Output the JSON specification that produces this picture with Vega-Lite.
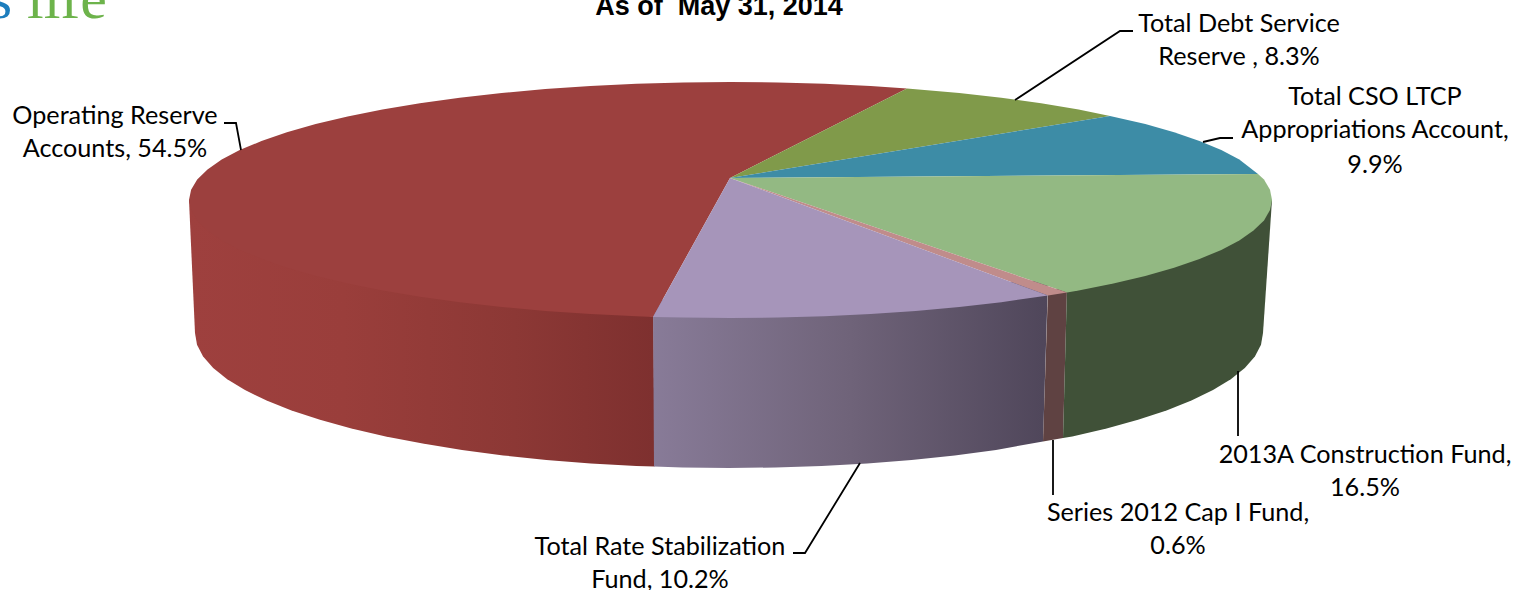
{"$schema":"https://vega.github.io/schema/vega-lite/v6.json","width":1515,"height":590,"autosize":{"type":"none"},"padding":0,"background":"white","view":{"stroke":null},
"datasets":{
"faces":[
{"face":"side red","x":189,"y":200},{"face":"side red","x":653.5,"y":317},{"face":"side red","x":654.5,"y":466.5},{"face":"side red","x":636.3,"y":465.9},{"face":"side red","x":590.8,"y":463.4},{"face":"side red","x":546.4,"y":459.9},{"face":"side red","x":503.3,"y":455.4},{"face":"side red","x":462,"y":449.9},{"face":"side red","x":422.7,"y":443.6},{"face":"side red","x":385.7,"y":436.4},{"face":"side red","x":351.4,"y":428.5},{"face":"side red","x":320,"y":419.8},{"face":"side red","x":291.5,"y":410.4},{"face":"side red","x":266.6,"y":400.5},{"face":"side red","x":245,"y":390.1},{"face":"side red","x":227.2,"y":379.2},{"face":"side red","x":213.2,"y":367.9},{"face":"side red","x":203.1,"y":356.4},{"face":"side red","x":197,"y":344.8},{"face":"side red","x":195,"y":333},
{"face":"side purple","x":653,"y":300},{"face":"side purple","x":1048,"y":280},{"face":"side purple","x":1043,"y":441.5},{"face":"side purple","x":996,"y":449.9},{"face":"side purple","x":954.7,"y":455.4},{"face":"side purple","x":911.6,"y":459.9},{"face":"side purple","x":867.2,"y":463.4},{"face":"side purple","x":821.7,"y":465.9},{"face":"side purple","x":775.6,"y":467.5},{"face":"side purple","x":729,"y":468},{"face":"side purple","x":682.4,"y":467.5},{"face":"side purple","x":654,"y":466.5},
{"face":"side pink","x":1048,"y":290},{"face":"side pink","x":1067,"y":288},{"face":"side pink","x":1063,"y":438},{"face":"side pink","x":1043,"y":441.5},
{"face":"side green","x":1067,"y":288},{"face":"side green","x":1272,"y":200},{"face":"side green","x":1263,"y":333},{"face":"side green","x":1261,"y":344.8},{"face":"side green","x":1254.9,"y":356.4},{"face":"side green","x":1244.8,"y":367.9},{"face":"side green","x":1230.8,"y":379.2},{"face":"side green","x":1213,"y":390.1},{"face":"side green","x":1191.4,"y":400.5},{"face":"side green","x":1166.5,"y":410.4},{"face":"side green","x":1138,"y":419.8},{"face":"side green","x":1106.6,"y":428.5},{"face":"side green","x":1072.3,"y":436.4},{"face":"side green","x":1063,"y":438},
{"face":"Operating Reserve Accounts","x":730,"y":178},{"face":"Operating Reserve Accounts","x":653,"y":317},{"face":"Operating Reserve Accounts","x":636.5,"y":316.2},{"face":"Operating Reserve Accounts","x":590.4,"y":314},{"face":"Operating Reserve Accounts","x":545.3,"y":310.9},{"face":"Operating Reserve Accounts","x":501.7,"y":306.9},{"face":"Operating Reserve Accounts","x":459.7,"y":302.2},{"face":"Operating Reserve Accounts","x":419.9,"y":296.7},{"face":"Operating Reserve Accounts","x":382.4,"y":290.4},{"face":"Operating Reserve Accounts","x":347.6,"y":283.4},{"face":"Operating Reserve Accounts","x":315.7,"y":275.9},{"face":"Operating Reserve Accounts","x":286.9,"y":267.7},{"face":"Operating Reserve Accounts","x":261.5,"y":259},{"face":"Operating Reserve Accounts","x":239.7,"y":249.9},{"face":"Operating Reserve Accounts","x":221.7,"y":240.4},{"face":"Operating Reserve Accounts","x":207.5,"y":230.5},{"face":"Operating Reserve Accounts","x":197.2,"y":220.5},{"face":"Operating Reserve Accounts","x":191.1,"y":210},{"face":"Operating Reserve Accounts","x":189,"y":200},{"face":"Operating Reserve Accounts","x":191.1,"y":189.7},{"face":"Operating Reserve Accounts","x":197.2,"y":179.5},{"face":"Operating Reserve Accounts","x":207.5,"y":169.5},{"face":"Operating Reserve Accounts","x":221.7,"y":159.6},{"face":"Operating Reserve Accounts","x":239.7,"y":150.1},{"face":"Operating Reserve Accounts","x":261.5,"y":141},{"face":"Operating Reserve Accounts","x":286.9,"y":132.3},{"face":"Operating Reserve Accounts","x":315.7,"y":124.1},{"face":"Operating Reserve Accounts","x":347.6,"y":116.6},{"face":"Operating Reserve Accounts","x":382.4,"y":109.6},{"face":"Operating Reserve Accounts","x":419.9,"y":103.3},{"face":"Operating Reserve Accounts","x":459.7,"y":97.8},{"face":"Operating Reserve Accounts","x":501.7,"y":93.1},{"face":"Operating Reserve Accounts","x":545.3,"y":89.1},{"face":"Operating Reserve Accounts","x":590.4,"y":86},{"face":"Operating Reserve Accounts","x":636.5,"y":83.8},{"face":"Operating Reserve Accounts","x":683.3,"y":82.4},{"face":"Operating Reserve Accounts","x":730.5,"y":82},{"face":"Operating Reserve Accounts","x":777.7,"y":82.4},{"face":"Operating Reserve Accounts","x":824.5,"y":83.8},{"face":"Operating Reserve Accounts","x":870.6,"y":86},{"face":"Operating Reserve Accounts","x":907,"y":88.6},
{"face":"Total Debt Service Reserve","x":730,"y":178},{"face":"Total Debt Service Reserve","x":907,"y":88.6},{"face":"Total Debt Service Reserve","x":959.3,"y":93.1},{"face":"Total Debt Service Reserve","x":1001.3,"y":97.8},{"face":"Total Debt Service Reserve","x":1041.1,"y":103.3},{"face":"Total Debt Service Reserve","x":1078.6,"y":109.6},{"face":"Total Debt Service Reserve","x":1110,"y":116},
{"face":"Total CSO LTCP Appropriations Account","x":730,"y":178},{"face":"Total CSO LTCP Appropriations Account","x":1110,"y":116},{"face":"Total CSO LTCP Appropriations Account","x":1145.3,"y":124.1},{"face":"Total CSO LTCP Appropriations Account","x":1174.1,"y":132.3},{"face":"Total CSO LTCP Appropriations Account","x":1199.5,"y":141},{"face":"Total CSO LTCP Appropriations Account","x":1221.3,"y":150.1},{"face":"Total CSO LTCP Appropriations Account","x":1239.3,"y":159.6},{"face":"Total CSO LTCP Appropriations Account","x":1258,"y":174},
{"face":"2013A Construction Fund","x":730,"y":178},{"face":"2013A Construction Fund","x":1258,"y":174},{"face":"2013A Construction Fund","x":1264,"y":179.5},{"face":"2013A Construction Fund","x":1270,"y":189.7},{"face":"2013A Construction Fund","x":1272,"y":200},{"face":"2013A Construction Fund","x":1270,"y":210},{"face":"2013A Construction Fund","x":1264,"y":220.5},{"face":"2013A Construction Fund","x":1253.5,"y":230.5},{"face":"2013A Construction Fund","x":1239.3,"y":240.4},{"face":"2013A Construction Fund","x":1221.3,"y":249.9},{"face":"2013A Construction Fund","x":1199.5,"y":259},{"face":"2013A Construction Fund","x":1174.1,"y":267.7},{"face":"2013A Construction Fund","x":1145.3,"y":275.9},{"face":"2013A Construction Fund","x":1113.4,"y":283.4},{"face":"2013A Construction Fund","x":1078.6,"y":290.4},{"face":"2013A Construction Fund","x":1067,"y":292.5},
{"face":"Series 2012 Cap I Fund","x":730,"y":178},{"face":"Series 2012 Cap I Fund","x":1067,"y":292.5},{"face":"Series 2012 Cap I Fund","x":1048,"y":295.6},
{"face":"Total Rate Stabilization Fund","x":730,"y":178},{"face":"Total Rate Stabilization Fund","x":1048,"y":295.6},{"face":"Total Rate Stabilization Fund","x":1001.3,"y":302.2},{"face":"Total Rate Stabilization Fund","x":959.3,"y":306.9},{"face":"Total Rate Stabilization Fund","x":915.7,"y":310.9},{"face":"Total Rate Stabilization Fund","x":870.6,"y":314},{"face":"Total Rate Stabilization Fund","x":824.5,"y":316.2},{"face":"Total Rate Stabilization Fund","x":777.7,"y":317.6},{"face":"Total Rate Stabilization Fund","x":730.5,"y":318},{"face":"Total Rate Stabilization Fund","x":683.3,"y":317.6},{"face":"Total Rate Stabilization Fund","x":653,"y":317}
],
"leaders":[
{"slice":"Operating","x":224,"y":123},{"slice":"Operating","x":236,"y":123},{"slice":"Operating","x":241,"y":150},
{"slice":"Debt","x":1133,"y":31},{"slice":"Debt","x":1120,"y":31},{"slice":"Debt","x":1015,"y":100},
{"slice":"CSO","x":1233,"y":138},{"slice":"CSO","x":1220,"y":138},{"slice":"CSO","x":1203,"y":142},
{"slice":"2013A","x":1238,"y":371},{"slice":"2013A","x":1238,"y":436},
{"slice":"Series","x":1053,"y":440},{"slice":"Series","x":1053,"y":495},
{"slice":"Rate","x":860,"y":463},{"slice":"Rate","x":805,"y":553},{"slice":"Rate","x":793,"y":553}
],
"labels":[
{"text":"Operating Reserve","x":115,"y":124},{"text":"Accounts, 54.5%","x":115,"y":157},
{"text":"Total Debt Service","x":1239,"y":32},{"text":"Reserve , 8.3%","x":1239,"y":65},
{"text":"Total CSO LTCP","x":1375,"y":105},{"text":"Appropriations Account,","x":1375,"y":138},{"text":"9.9%","x":1375,"y":173},
{"text":"2013A Construction Fund,","x":1365,"y":463},{"text":"16.5%","x":1365,"y":496},
{"text":"Series 2012 Cap I Fund,","x":1178,"y":521},{"text":"0.6%","x":1178,"y":554},
{"text":"Total Rate Stabilization","x":660,"y":555},{"text":"Fund, 10.2%","x":660,"y":588}
],
"title":[{"text":"As of \u00a0May 31, 2014","x":719,"y":15}],
"logoS":[{"text":"s","x":12,"y":18}],
"logoLife":[{"text":"life","x":27,"y":18}]
},
"encoding":{"x":{"field":"x","type":"quantitative","scale":{"domain":[0,1515]},"axis":null},"y":{"field":"y","type":"quantitative","scale":{"domain":[0,590],"reverse":true},"axis":null}},
"layer":[
{"data":{"name":"faces"},"transform":[{"filter":"datum.face==='side red'"},{"window":[{"op":"row_number","as":"i"}]}],"mark":{"type":"line","filled":true,"strokeWidth":0,"fill":{"gradient":"linear","x1":0,"x2":1,"y1":0,"y2":0,"stops":[{"offset":0,"color":"#9e403e"},{"offset":0.33,"color":"#9a3e3b"},{"offset":0.7,"color":"#8c3835"},{"offset":1,"color":"#7e302f"}]}},"encoding":{"order":{"field":"i"}}},
{"data":{"name":"faces"},"transform":[{"filter":"datum.face==='side purple'"},{"window":[{"op":"row_number","as":"i"}]}],"mark":{"type":"line","filled":true,"strokeWidth":0,"fill":{"gradient":"linear","x1":0,"x2":1,"y1":0,"y2":0,"stops":[{"offset":0,"color":"#887b98"},{"offset":0.5,"color":"#6f6379"},{"offset":1,"color":"#4f465a"}]}},"encoding":{"order":{"field":"i"}}},
{"data":{"name":"faces"},"transform":[{"filter":"datum.face!=='side red'&&datum.face!=='side purple'"},{"window":[{"op":"row_number","as":"i"}],"groupby":["face"]}],"mark":{"type":"line","filled":true,"strokeWidth":0},"encoding":{"order":{"field":"i"},"color":{"field":"face","type":"nominal","legend":null,"scale":{"domain":["side pink","side green","Operating Reserve Accounts","Total Debt Service Reserve","Total CSO LTCP Appropriations Account","2013A Construction Fund","Series 2012 Cap I Fund","Total Rate Stabilization Fund"],"range":["#5f4242","#405138","#9c403e","#809a4a","#3d8ca6","#93b983","#c08c8b","#a695ba"]}}}},
{"data":{"name":"leaders"},"transform":[{"window":[{"op":"row_number","as":"i"}],"groupby":["slice"]}],"mark":{"type":"line","color":"black","strokeWidth":1.8},"encoding":{"order":{"field":"i"},"detail":{"field":"slice"}}},
{"data":{"name":"labels"},"mark":{"type":"text","font":"Lato","fontSize":25.2,"align":"center","baseline":"alphabetic","color":"black"},"encoding":{"text":{"field":"text"}}},
{"data":{"name":"title"},"mark":{"type":"text","font":"Liberation Sans","fontWeight":"bold","fontSize":27,"align":"center","baseline":"alphabetic","color":"black"},"encoding":{"text":{"field":"text"}}},
{"data":{"name":"logoS"},"mark":{"type":"text","font":"Liberation Serif","fontSize":60,"align":"right","baseline":"alphabetic","color":"#1c7dbd"},"encoding":{"text":{"field":"text"}}},
{"data":{"name":"logoLife"},"mark":{"type":"text","font":"Liberation Serif","fontSize":60,"align":"left","baseline":"alphabetic","color":"#6db34b"},"encoding":{"text":{"field":"text"}}}
]}
